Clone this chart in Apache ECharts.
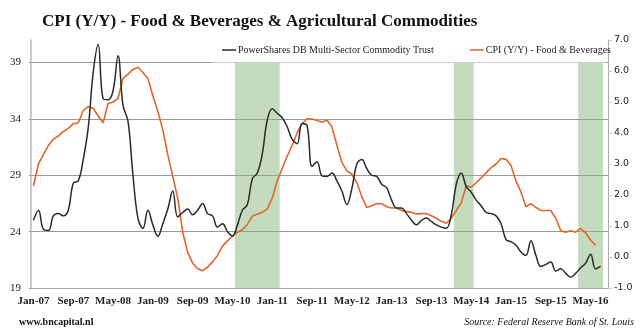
<!DOCTYPE html>
<html><head><meta charset="utf-8">
<script src="https://cdn.jsdelivr.net/npm/echarts@6/dist/echarts.min.js"></script>
<style>html,body{margin:0;padding:0;background:#fff}#c{width:640px;height:333px}</style>
</head><body><div id="c"></div>
<script>
const months = [
 'Jan-07','Feb-07','Mar-07','Apr-07','May-07','Jun-07','Jul-07','Aug-07','Sep-07','Oct-07','Nov-07','Dec-07',
 'Jan-08','Feb-08','Mar-08','Apr-08','May-08','Jun-08','Jul-08','Aug-08','Sep-08','Oct-08','Nov-08','Dec-08',
 'Jan-09','Feb-09','Mar-09','Apr-09','May-09','Jun-09','Jul-09','Aug-09','Sep-09','Oct-09','Nov-09','Dec-09',
 'Jan-10','Feb-10','Mar-10','Apr-10','May-10','Jun-10','Jul-10','Aug-10','Sep-10','Oct-10','Nov-10','Dec-10',
 'Jan-11','Feb-11','Mar-11','Apr-11','May-11','Jun-11','Jul-11','Aug-11','Sep-11','Oct-11','Nov-11','Dec-11',
 'Jan-12','Feb-12','Mar-12','Apr-12','May-12','Jun-12','Jul-12','Aug-12','Sep-12','Oct-12','Nov-12','Dec-12',
 'Jan-13','Feb-13','Mar-13','Apr-13','May-13','Jun-13','Jul-13','Aug-13','Sep-13','Oct-13','Nov-13','Dec-13',
 'Jan-14','Feb-14','Mar-14','Apr-14','May-14','Jun-14','Jul-14','Aug-14','Sep-14','Oct-14','Nov-14','Dec-14',
 'Jan-15','Feb-15','Mar-15','Apr-15','May-15','Jun-15','Jul-15','Aug-15','Sep-15','Oct-15','Nov-15','Dec-15',
 'Jan-16','Feb-16','Mar-16','Apr-16','May-16','Jun-16','Jul-16','Aug-16'
];

// PowerShares DB Multi-Sector Commodity Trust (left axis)
const commodityTrust = [
 25.0,25.9,24.2,24.1,25.4,25.6,25.4,25.9,28.3,28.5,
 30.4,33.2,38.1,40.6,35.8,35.7,36.5,39.6,35.2,33.8,
 29.0,25.2,24.3,25.9,24.6,23.6,24.7,26.0,27.6,25.3,
 25.7,26.0,25.5,25.9,26.5,25.6,25.4,24.4,24.7,24.0,
 23.6,24.6,25.9,26.4,28.7,29.2,30.9,33.9,34.9,34.5,
 34.1,33.3,32.2,31.8,33.6,33.4,29.8,30.2,28.95,28.9,
 29.2,28.5,27.6,26.4,27.8,30.0,30.4,29.6,29.0,28.9,
 28.2,27.9,26.8,26.1,26.1,25.6,25.0,24.6,25.0,25.2,
 24.9,24.6,24.4,24.3,25.5,28.2,29.2,28.0,27.5,26.8,
 26.3,25.7,25.6,25.4,24.7,23.3,23.1,22.8,22.2,21.9,
 23.2,21.9,20.9,21.1,21.3,20.5,20.7,20.3,19.95,20.3,
 20.8,21.2,22.0,20.7,20.95
];

// CPI (Y/Y) - Food & Beverages (right axis, %)
const cpiFood = [
 2.3,3.0,3.3,3.6,3.8,3.9,4.05,4.15,4.3,4.33,
 4.72,4.85,4.8,4.55,4.33,4.95,5.0,5.12,5.76,5.9,
 6.05,6.12,5.95,5.76,5.2,4.7,4.1,3.3,2.6,1.9,
 0.8,0.15,-0.2,-0.38,-0.44,-0.33,-0.15,0.05,0.35,0.52,
 0.67,0.8,0.88,1.05,1.32,1.38,1.44,1.55,1.9,2.45,
 2.85,3.25,3.6,4.0,4.3,4.46,4.45,4.4,4.35,4.42,
 4.2,3.6,3.05,2.78,2.67,2.4,1.95,1.6,1.65,1.72,
 1.72,1.62,1.58,1.58,1.5,1.47,1.44,1.39,1.4,1.4,
 1.33,1.25,1.15,1.09,1.25,1.5,1.75,2.3,2.25,2.4,
 2.55,2.72,2.88,3.0,3.18,3.15,2.95,2.45,2.1,1.62,
 1.72,1.6,1.5,1.5,1.5,1.25,0.85,0.8,0.85,0.8,
 0.92,0.78,0.55,0.37
];

const shadedBands = [['Jun-10','Feb-11'],['Feb-14','May-14'],['Mar-16','Jul-16']];
const leftAxisRange = [19, 41];
const rightAxisRange = [-1, 7];

const chart = echarts.init(document.getElementById('c'), null, {renderer:'canvas'});
const bandData = shadedBands.map(b => [{xAxis: months.indexOf(b[0])}, {xAxis: months.indexOf(b[1]) + 1}]);

chart.setOption({
  animation: false,
  backgroundColor: '#fff',
  title: {
    text: 'CPI (Y/Y) - Food & Beverages & Agricultural Commodities',
    left: 37, top: 8,
    textStyle: {fontFamily: 'Liberation Serif', fontWeight: 'bold', fontSize: 17, color: '#111'}
  },
  legend: {
    data: ['PowerShares DB Multi-Sector Commodity Trust', 'CPI (Y/Y) - Food & Beverages'],
    orient: 'horizontal', left: 222, top: 45, width: 410, padding: 0,
    icon: 'rect', itemWidth: 14, itemHeight: 1.5, itemGap: 36, z: 60,
    textStyle: {fontFamily: 'Liberation Serif', fontSize: 10, color: '#222', padding: [0, 0, 0, -3]}
  },
  grid: {left: 31, right: 32, top: 40, bottom: 45},
  xAxis: [{
    type: 'category', data: months, boundaryGap: true,
    axisLine: {onZero: false, lineStyle: {color: '#aaa'}},
    axisTick: {show: false},
    axisLabel: {interval: 7, margin: 8, fontFamily: 'Liberation Serif', fontWeight: 'bold', fontSize: 11, color: '#222'},
    splitLine: {show: false}
  }, {
    type: 'value', min: 0, max: months.length, show: false
  }],
  yAxis: [{
    type: 'value', min: leftAxisRange[0], max: leftAxisRange[1], interval: 5, position: 'left',
    axisLine: {show: true, lineStyle: {color: '#bbb', width: 1.5}},
    axisTick: {show: true, length: 2, lineStyle: {color: '#999'}},
    axisLabel: {margin: 10, showMaxLabel: false, fontFamily: 'Liberation Serif', fontSize: 11, color: '#222'},
    splitLine: {show: true, showMaxLine: false, showMinLine: false, lineStyle: {color: '#999', width: 1}}
  }, {
    type: 'value', min: rightAxisRange[0], max: rightAxisRange[1], interval: 1, position: 'right',
    axisLine: {show: true, lineStyle: {color: '#aaa'}},
    axisTick: {show: true, length: 4, lineStyle: {color: '#d8c4b4'}},
    axisLabel: {margin: 6, formatter: v => v.toFixed(1), fontFamily: 'DejaVu Sans', fontSize: 9.5, color: '#222'},
    splitLine: {show: false}
  }],
  graphic: [
    {type: 'rect', shape: {x: 212, y: 40, width: 394, height: 22.5}, style: {fill: '#fff'}, z: 50},
    {type: 'text', x: 19, y: 322, style: {text: 'www.bncapital.nl', fontFamily: 'Liberation Serif', fontWeight: 'bold', fontSize: 10, fill: '#111', textVerticalAlign: 'middle'}},
    {type: 'text', x: 634, y: 322, style: {text: 'Source: Federal Reserve Bank of St. Louis', fontFamily: 'Liberation Serif', fontStyle: 'italic', fontSize: 10, fill: '#111', textAlign: 'right', textVerticalAlign: 'middle'}}
  ],
  series: [
    {
      type: 'line', xAxisIndex: 1, yAxisIndex: 0, data: [], silent: true,
      markArea: {silent: true, itemStyle: {color: 'rgba(134,180,122,0.48)'}, data: bandData}
    },
    {
      name: 'CPI (Y/Y) - Food & Beverages', type: 'line', yAxisIndex: 1, data: cpiFood,
      symbol: 'none', lineStyle: {color: '#E2662A', width: 1.6}, itemStyle: {color: '#E2662A'}, z: 3
    },
    {
      name: 'PowerShares DB Multi-Sector Commodity Trust', type: 'line', yAxisIndex: 0, data: commodityTrust,
      symbol: 'none', smooth: 0.4, lineStyle: {color: '#2a2a2a', width: 1.5}, itemStyle: {color: '#2a2a2a'}, z: 4
    }
  ]
});
</script></body></html>
